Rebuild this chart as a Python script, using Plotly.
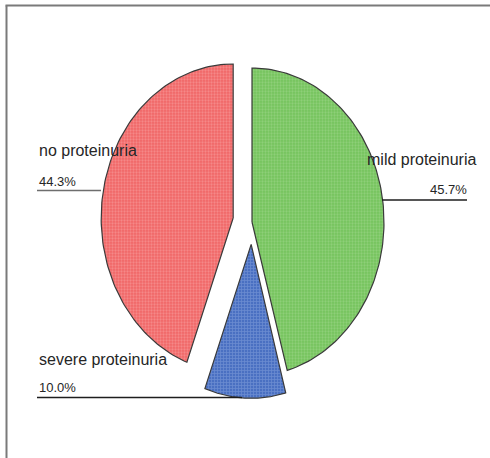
import numpy as np
import plotly.graph_objects as go

# Proteinuria categories, in drawing order (clockwise from 12 o'clock)
categories = ["mild proteinuria", "severe proteinuria", "no proteinuria"]
percent = [45.7, 10.0, 44.3]
percent_labels = ["45.7%", "10.0%", "44.3%"]

# Styling per slice
explode = [0.0, 0.145, 0.145]
base_colors = ["#74c35c", "#4a70c2", "#f06666"]
dot_colors = ["#a8dc94", "#8aa6de", "#f9aaaa"]
pattern_shapes = [".", "+", "."]

W, H = 490, 458
CX, CY = 252, 222          # pie centre in pixels
RX, RY = 132, 154          # pixel length of one data unit on x / y

fig = go.Figure()

start = 0.0
for name, pct, pull, col, dot, shp in zip(categories, percent, explode,
                                          base_colors, dot_colors, pattern_shapes):
    sweep = pct / 100.0 * 360.0
    mid = np.radians(start + sweep / 2)
    ox, oy = pull * np.sin(mid), pull * np.cos(mid)
    theta = np.radians(np.linspace(start, start + sweep, 120))
    xs = np.concatenate([[ox], ox + np.sin(theta), [ox]])
    ys = np.concatenate([[oy], oy + np.cos(theta), [oy]])
    fig.add_trace(go.Scatter(
        x=xs, y=ys, mode="lines", fill="toself", name=name,
        line=dict(color="#3a3a3a", width=1.2),
        fillcolor=col,
        fillpattern=dict(shape=shp, bgcolor=col, fgcolor=dot, size=3, solidity=0.45),
        hoverinfo="name", showlegend=False,
    ))
    start += sweep


def px(x):
    return x / W


def py(y):
    return 1 - y / H


font_name = "Liberation Sans, Arial, sans-serif"
txt = "#262626"

# category / percentage labels with their leader lines
label_specs = [
    # (category text, pct text, x, y_name, y_pct, anchor, line x0, line x1, line y, line colour)
    (categories[2], percent_labels[2], 37, 150, 181, "left", 37, 101, 190.5, "#6e6e6e"),
    (categories[0], percent_labels[0], 478, 160, 189.5, "right", 382, 467, 200, "#1e1e1e"),
    (categories[1], percent_labels[1], 37, 359, 387, "left", 37, 242, 397.5, "#1e1e1e"),
]

annotations = []
shapes = []
for cat, pct_txt, x, yn, yp, anc, lx0, lx1, ly, lc in label_specs:
    annotations.append(dict(text=cat, x=px(x), y=py(yn), xref="paper", yref="paper",
                            xanchor=anc, yanchor="middle", showarrow=False,
                            font=dict(family=font_name, size=16, color=txt)))
    pct_x = x if anc == "left" else 469
    annotations.append(dict(text=pct_txt, x=px(pct_x), y=py(yp), xref="paper", yref="paper",
                            xanchor=anc, yanchor="middle", showarrow=False,
                            font=dict(family=font_name, size=13, color=txt)))
    shapes.append(dict(type="line", xref="paper", yref="paper",
                       x0=px(lx0), x1=px(lx1), y0=py(ly), y1=py(ly),
                       line=dict(color=lc, width=1.3)))

# frame along top and left edges
shapes.append(dict(type="line", xref="paper", yref="paper", x0=px(5.5), x1=1.0,
                   y0=py(5.5), y1=py(5.5), line=dict(color="#7a7a7a", width=2)))
shapes.append(dict(type="line", xref="paper", yref="paper", x0=px(6.5), x1=px(6.5),
                   y0=py(5.5), y1=0.0, line=dict(color="#7a7a7a", width=2)))

fig.update_layout(
    width=W, height=H,
    margin=dict(l=0, r=0, t=0, b=0),
    paper_bgcolor="white", plot_bgcolor="white",
    xaxis=dict(range=[-CX / RX, (W - CX) / RX], visible=False, fixedrange=True),
    yaxis=dict(range=[-(H - CY) / RY, CY / RY], visible=False, fixedrange=True),
    annotations=annotations,
    shapes=shapes,
    showlegend=False,
)

fig.write_html("out.html")
